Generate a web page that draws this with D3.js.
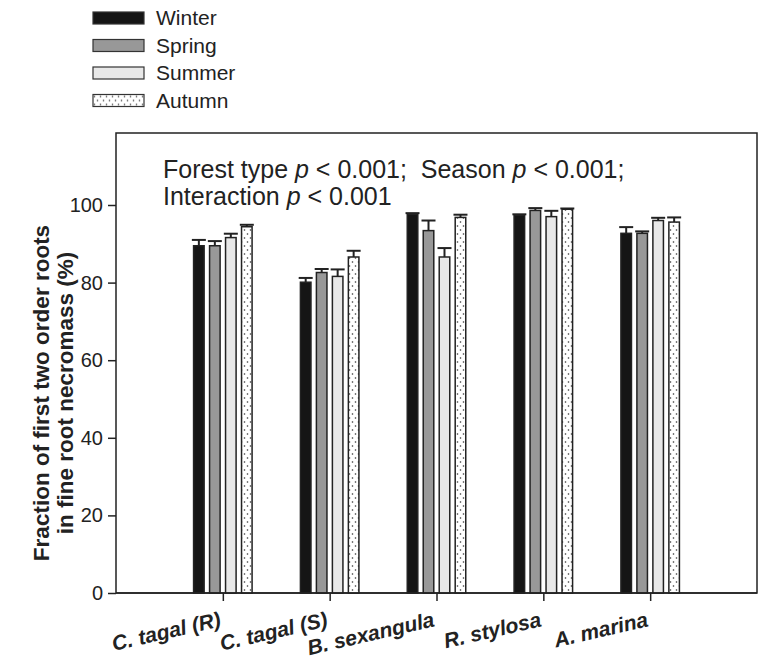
<!DOCTYPE html>
<html>
<head>
<meta charset="utf-8">
<style>
body { margin:0; padding:0; background:#fff; }
svg { display:block; font-family: Arial, "Liberation Sans", sans-serif; }
.axis text { font-size:20px; fill:#222; }
.axis path, .axis line { stroke:#222; stroke-width:1.5; }
</style>
<script src="https://cdnjs.cloudflare.com/ajax/libs/d3/7.8.5/d3.min.js"></script>
</head>
<body>
<script>
// data
var forests = ["C. tagal (R)", "C. tagal (S)", "B. sexangula", "R. stylosa", "A. marina"];
var seasons = ["Winter", "Spring", "Summer", "Autumn"];
var winter = [89.5, 80.1, 97.6, 97.4, 92.7];
var spring = [89.5, 82.6, 93.4, 98.6, 92.7];
var summer = [91.6, 81.6, 86.6, 97.0, 96.0];
var autumn = [94.4, 86.6, 96.8, 98.9, 95.6];
var winterErr = [1.5, 1.1, 0.3, 0.2, 1.6];
var springErr = [1.2, 0.9, 2.6, 0.6, 0.5];
var summerErr = [1.0, 1.8, 2.3, 1.5, 0.7];
var autumnErr = [0.5, 1.6, 0.7, 0.2, 1.2];
var yTicks = [0, 20, 40, 60, 80, 100];

var values = [winter, spring, summer, autumn];
var errs = [winterErr, springErr, summerErr, autumnErr];
var fills = ["#151515", "#989898", "#e8e8e8", "url(#dots)"];

var W = 759, H = 659;
var mLeft = 116, mRight = 757, mTop = 133, mBottom = 593;

var svg = d3.select("body").append("svg").attr("width", W).attr("height", H);

var defs = svg.append("defs");
var pat = defs.append("pattern").attr("id", "dots")
  .attr("patternUnits", "userSpaceOnUse").attr("width", 6).attr("height", 8);
pat.append("rect").attr("width", 6).attr("height", 8).attr("fill", "#fff");
pat.append("circle").attr("cx", 1.5).attr("cy", 2).attr("r", 0.8).attr("fill", "#333");
pat.append("circle").attr("cx", 4.5).attr("cy", 6).attr("r", 0.8).attr("fill", "#333");

var x = d3.scalePoint().domain(forests).range([mLeft, mRight]).padding(1);
var xs = d3.scaleBand().domain(seasons).range([-29.25, 29.25]).paddingInner(0.34);
var y = d3.scaleLinear().domain([0, 100]).range([mBottom, 205]);

// frame
svg.append("rect").attr("x", mLeft).attr("y", mTop)
  .attr("width", mRight - mLeft).attr("height", mBottom - mTop)
  .attr("fill", "none").attr("stroke", "#222").attr("stroke-width", 1.5);

// y axis
svg.append("g").attr("class", "axis")
  .attr("transform", "translate(" + mLeft + ",0)")
  .call(d3.axisLeft(y).tickValues(yTicks).tickSize(8).tickPadding(5).tickSizeOuter(0))
  .call(function(g) { g.select(".domain").remove(); });

// x axis ticks
var xa = svg.append("g").attr("class", "axis")
  .attr("transform", "translate(0," + mBottom + ")")
  .call(d3.axisBottom(x).tickSize(8).tickSizeOuter(0).tickFormat(""));
xa.select(".domain").remove();

// x labels, rotated
svg.append("g").selectAll("text").data(forests).enter().append("text")
  .attr("transform", function(d) { return "translate(" + (x(d) - 1) + ",626) rotate(-13)"; })
  .attr("text-anchor", "end")
  .style("font-size", "21px").style("font-weight", "bold").style("font-style", "italic")
  .attr("fill", "#222")
  .text(function(d) { return d; });

// bars
seasons.forEach(function(s, si) {
  var g = svg.append("g");
  forests.forEach(function(f, fi) {
    var v = values[si][fi], e = errs[si][fi];
    var bx = x(f) + xs(s), bw = xs.bandwidth();
    var cx = bx + bw / 2;
    g.append("line").attr("x1", cx).attr("x2", cx)
      .attr("y1", y(v)).attr("y2", y(v + e)).attr("stroke", "#222").attr("stroke-width", 2);
    g.append("line").attr("x1", cx - 7).attr("x2", cx + 7)
      .attr("y1", y(v + e)).attr("y2", y(v + e)).attr("stroke", "#222").attr("stroke-width", 2);
    g.append("rect").attr("x", bx).attr("y", y(v))
      .attr("width", bw).attr("height", y(0) - y(v))
      .attr("fill", fills[si]).attr("stroke", "#222").attr("stroke-width", 1.5);
  });
});

// redraw baseline on top of bars
svg.append("line").attr("x1", mLeft).attr("x2", mRight).attr("y1", mBottom).attr("y2", mBottom)
  .attr("stroke", "#222").attr("stroke-width", 1.5);

// annotation
var ann = svg.append("text").attr("x", 163).attr("y", 178)
  .style("font-size", "25px").attr("fill", "#222");
ann.append("tspan").text("Forest type ");
ann.append("tspan").style("font-style", "italic").text("p");
ann.append("tspan").text(" < 0.001;\u00a0 Season ");
ann.append("tspan").style("font-style", "italic").text("p");
ann.append("tspan").text(" < 0.001;");
var ann2 = svg.append("text").attr("x", 163).attr("y", 205)
  .style("font-size", "25px").attr("fill", "#222");
ann2.append("tspan").text("Interaction ");
ann2.append("tspan").style("font-style", "italic").text("p");
ann2.append("tspan").text(" < 0.001");

// y title
var yt = svg.append("text")
  .attr("transform", "translate(49,393) rotate(-90)")
  .attr("text-anchor", "middle")
  .style("font-size", "22.5px").style("font-weight", "bold").attr("fill", "#222");
yt.append("tspan").attr("x", 0).attr("dy", 0).text("Fraction of first two order roots");
yt.append("tspan").attr("x", 0).attr("dy", 24).text("in fine root necromass (%)");

// legend
var lg = svg.append("g").attr("transform", "translate(93,12)");
seasons.forEach(function(s, i) {
  var row = lg.append("g").attr("transform", "translate(0," + (i * 27.5) + ")");
  row.append("rect").attr("width", 51).attr("height", 12)
    .attr("fill", fills[i]).attr("stroke", "#333").attr("stroke-width", 1.2);
  row.append("text").attr("x", 63).attr("y", 13)
    .style("font-size", "21px").attr("fill", "#222").text(s);
});
</script>
</body>
</html>
